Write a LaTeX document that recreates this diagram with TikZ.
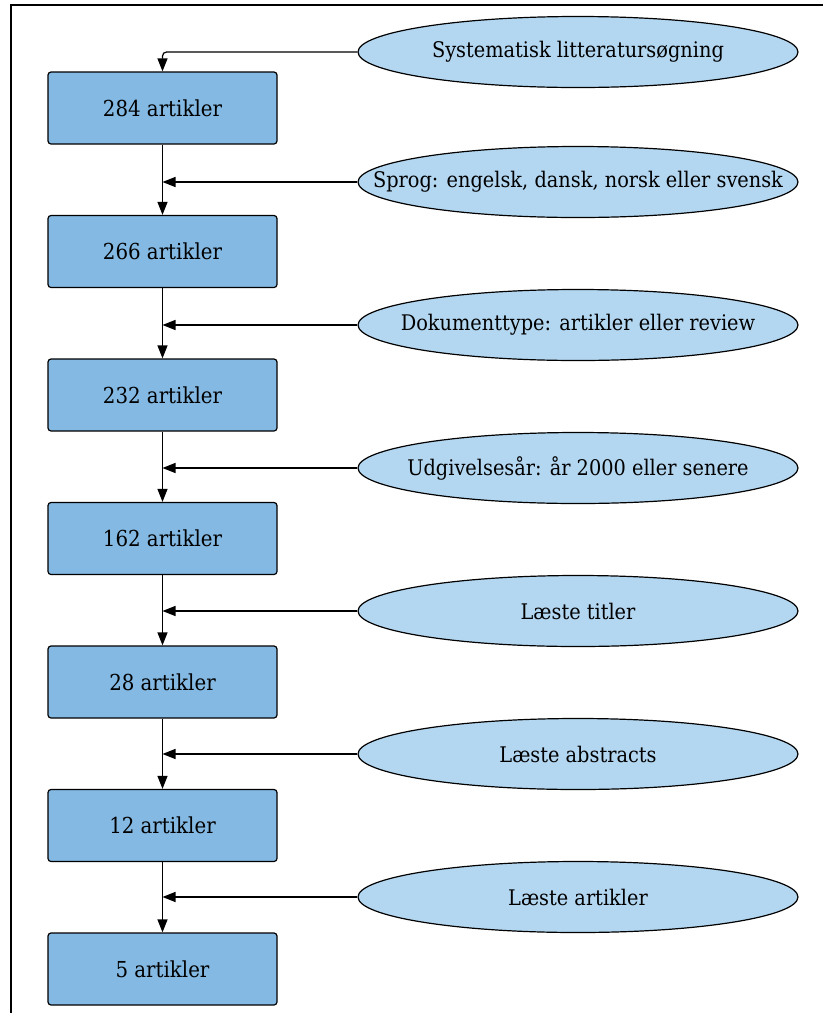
\documentclass[tikz,border=0pt]{standalone}
\usepackage{fontspec}
\setmainfont{DejaVu Serif Condensed}
\usepackage{xcolor}
\usetikzlibrary{shapes,arrows.meta,positioning,calc}
\definecolor{boxblue}{HTML}{84B9E3}
\definecolor{ovalblue}{HTML}{B4D7F1}

\begin{document}
\begin{tikzpicture}[x=1pt, y=-1pt,
    box/.style={draw, fill=boxblue, rounded corners=3pt, line width=1.2pt,
        minimum width=229pt, minimum height=72pt, font=\fontsize{22}{26}\selectfont},
    oval/.style={draw, ellipse, fill=ovalblue, line width=1.2pt,
        inner xsep=-60pt, inner ysep=0pt,
        minimum width=440pt, minimum height=71pt, font=\fontsize{21.5}{26}\selectfont},
    arr/.style={-{Triangle[length=13pt, width=10pt]}, line width=1.2pt}]
    \useasboundingbox (0,0) rectangle (823,1013);

    % Frame
    \draw[line width=1.3pt] (11,1013) -- (11,5) -- (823,5);

    % Boxes
    \foreach \n/\y/\txt in {1/108/284, 2/251.5/266, 3/395/232, 4/538.5/162,
                            5/682/28, 6/825.5/12, 7/969/5} {
        \node[box] (b\n) at (162.5,\y) {\txt\ artikler};
    }

    % Filters
    \node[oval] (o1) at (578,52)  {Systematisk litteratursøgning};
    \node[oval] (o2) at (578,182) {Sprog: engelsk, dansk, norsk eller svensk};
    \node[oval] (o3) at (578,325) {Dokumenttype: artikler eller review};
    \node[oval] (o4) at (578,468) {Udgivelsesår: år 2000 eller senere};
    \node[oval] (o5) at (578,611) {Læste titler};
    \node[oval] (o6) at (578,754) {Læste abstracts};
    \node[oval] (o7) at (578,897) {Læste artikler};

    % Arrows
    \draw[arr, rounded corners=4pt] (o1.west) -| (b1.north);
    \foreach \a/\b in {1/2, 2/3, 3/4, 4/5, 5/6, 6/7} {
        \draw[arr] (b\a.south) -- (b\b.north);
        \draw[arr] (o\b.west) -- (o\b.west -| b\a.south);
    }
\end{tikzpicture}
\end{document}
